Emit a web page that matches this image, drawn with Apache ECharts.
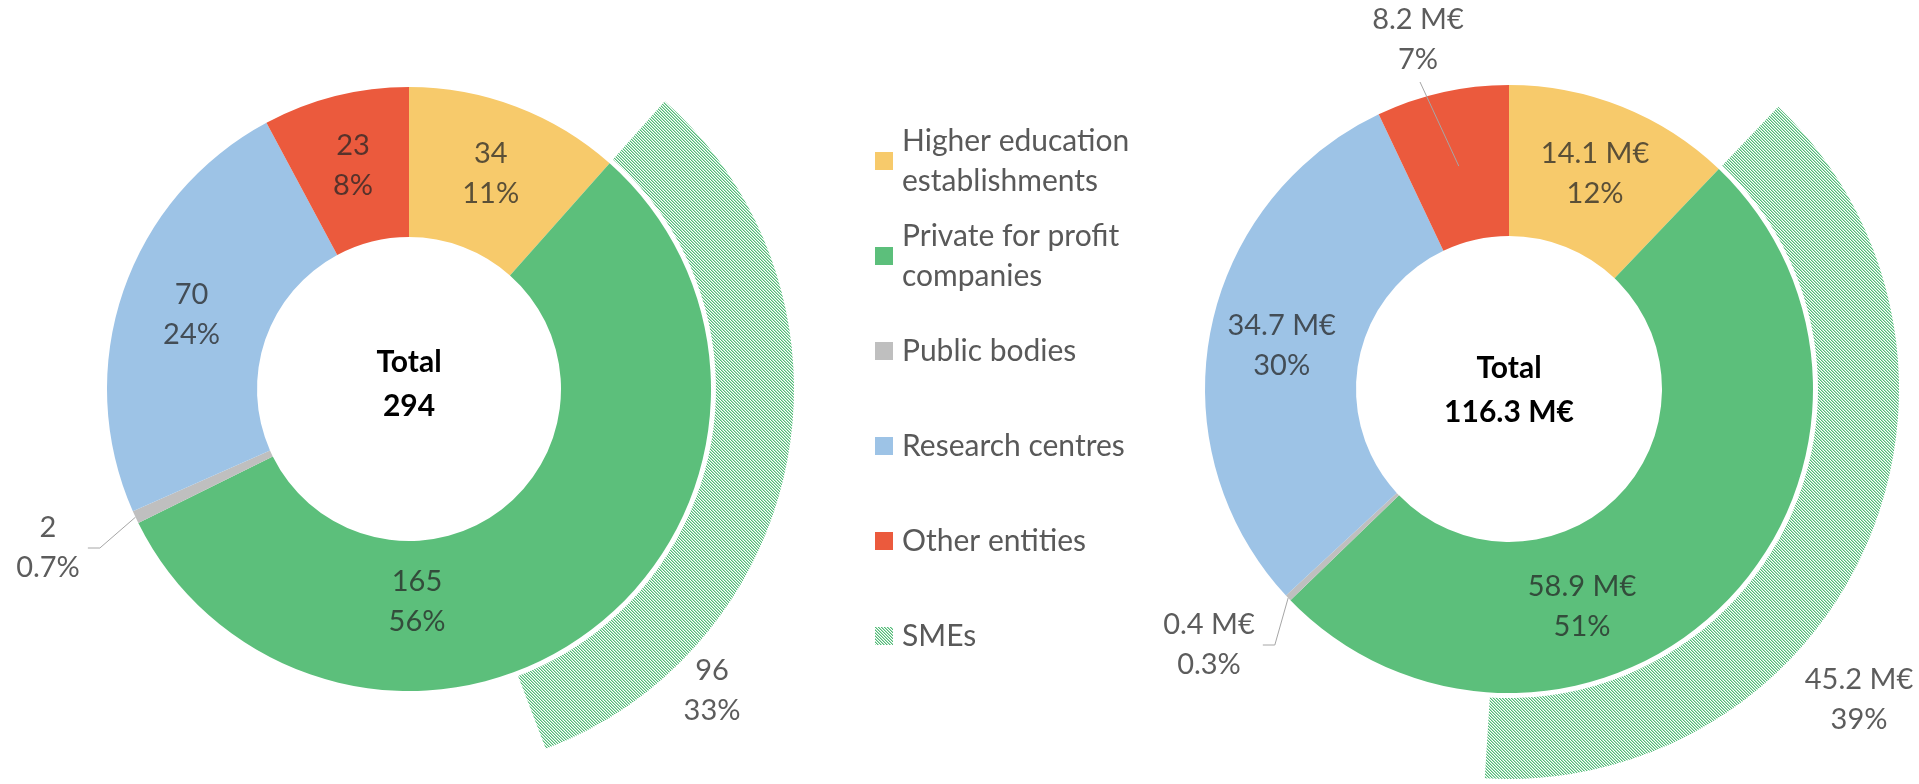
<!DOCTYPE html>
<html>
<head>
<meta charset="utf-8">
<title>Participants and funding by type of entity</title>
<script src="https://cdn.jsdelivr.net/npm/echarts@6/dist/echarts.min.js"></script>
<style>
  html, body { margin: 0; padding: 0; background: #fff; }
  #chart { width: 1919px; height: 784px; }
</style>
</head>
<body>
<div id="chart"></div>
<script>
var categories = ['Higher education establishments', 'Private for profit companies', 'Public bodies', 'Research centres', 'Other entities']
var legendNames = categories.concat(['SMEs'])
var legendText = ['Higher education\nestablishments', 'Private for profit\ncompanies', 'Public bodies', 'Research centres', 'Other entities', 'SMEs']

// left ring: number of participants
var participants = [34, 165, 2, 70, 23]
var participantsPct = ['11%', '56%', '0.7%', '24%', '8%']
var participantsTotal = 294
var participantsSme = 96
var participantsSmePct = '33%'

// right ring: funding in M€
var funding = [14.1, 58.9, 0.4, 34.7, 8.2]
var fundingPct = ['12%', '51%', '0.3%', '30%', '7%']
var fundingTotal = 116.3
var fundingSme = 45.2
var fundingSmePct = '39%'

var colors = ['#F7CA6B', '#5CBF7B', '#BFBFBF', '#9DC3E6', '#EB5A3D']
var labelColor = 'rgba(38,38,38,0.75)'
var leaderColor = '#a6a6a6'
var font = 'Lato'

// fine diagonal hatch for the SMEs arc
var hatch = document.createElement('canvas')
hatch.width = 3
hatch.height = 3
var ctx = hatch.getContext('2d')
ctx.fillStyle = '#ffffff'
ctx.fillRect(0, 0, 3, 3)
for (var i = 0; i < 3; i++) {
  ctx.fillStyle = '#52b978'
  ctx.fillRect(i, i, 1, 1)
  ctx.fillStyle = '#a9e0bb'
  ctx.fillRect((i + 1) % 3, i, 1, 1)
}
var hatchFill = { image: hatch, repeat: 'repeat' }

var labelBase = {
  fontFamily: font,
  fontSize: 29,
  lineHeight: 40,
  color: labelColor
}

// point in the middle of a slice (ring starts at 12 o'clock, clockwise)
function sliceMiddle(values, idx, center, radius) {
  var sum = 0, before = 0
  values.forEach(function (v, i) { sum += v; if (i < idx) before += v })
  var a = (90 - (before + values[idx] / 2) / sum * 360) * Math.PI / 180
  var r = (radius[0] + radius[1]) / 2
  return [center[0] + r * Math.cos(a), center[1] - r * Math.sin(a)]
}

function ring(values, pcts, fmt, center, radius, spots, outside) {
  return {
    type: 'pie',
    center: center,
    radius: radius,
    avoidLabelOverlap: false,
    silent: true,
    label: Object.assign({ position: 'inside', formatter: function (p) {
      return fmt(values[p.dataIndex]) + '\n' + pcts[p.dataIndex]
    } }, labelBase),
    labelLine: { show: false },
    labelLayout: function (p) {
      var s = spots[p.dataIndex]
      if (s) return { x: s[0], y: s[1], align: 'center', verticalAlign: 'middle' }
    },
    data: values.map(function (v, i) {
      var item = { name: categories[i], value: v, itemStyle: { color: colors[i] } }
      if (outside.indexOf(i) >= 0) {
        item.label = { position: 'outside', padding: [4, 8, 4, 8] }
        item.labelLine = { show: true, length: 20, length2: 12, lineStyle: { color: leaderColor, width: 1 } }
      }
      return item
    })
  }
}

function smeArc(values, total, sme, text, center, radius, spot) {
  var before = values[0]
  var after = Math.round((total - before - sme) * 10) / 10
  var none = { color: 'rgba(0,0,0,0)' }
  return {
    type: 'pie',
    center: center,
    radius: radius,
    avoidLabelOverlap: false,
    silent: true,
    label: Object.assign({ position: 'inside' }, labelBase),
    labelLine: { show: false },
    labelLayout: function (p) {
      if (p.dataIndex === 1) return { x: spot[0], y: spot[1], align: 'center', verticalAlign: 'middle' }
    },
    data: [
      { name: '', value: before, itemStyle: none, label: { show: false } },
      { name: 'SMEs', value: sme, itemStyle: { color: hatchFill }, label: { formatter: text } },
      { name: ' ', value: after, itemStyle: none, label: { show: false } }
    ]
  }
}

var leftCenter = [409, 389]
var rightCenter = [1509, 389]
var rightRadius = [153, 304]
var redSpot = [1418, 40]

// leader of the lifted "Other entities" funding label, from inside its slice
var redStart = sliceMiddle(funding, 4, rightCenter, rightRadius)

var chart = echarts.init(document.getElementById('chart'))
var option = {
  animation: false,
  backgroundColor: '#ffffff',
  legend: {
    orient: 'vertical',
    left: 875,
    top: 101,
    padding: 0,
    icon: 'rect',
    itemWidth: 18,
    itemHeight: 18,
    itemGap: -25,
    selectedMode: false,
    formatter: function (name) {
      return legendText[legendNames.indexOf(name)]
    },
    textStyle: {
      fontFamily: font,
      fontSize: 30,
      lineHeight: 40,
      color: '#595959'
    },
    data: legendNames.map(function (n, i) {
      var twoLines = legendText[i].indexOf('\n') >= 0
      return { name: n, textStyle: { padding: twoLines ? [40, 0, 0, 4] : [40, 0, 40, 4] } }
    })
  },
  graphic: [
    {
      type: 'text',
      x: leftCenter[0],
      y: 384,
      silent: true,
      style: {
        text: 'Total\n' + participantsTotal,
        align: 'center',
        verticalAlign: 'middle',
        fontFamily: font,
        fontWeight: 'bold',
        fontSize: 30,
        lineHeight: 44,
        fill: '#000'
      }
    },
    {
      type: 'text',
      x: rightCenter[0],
      y: 390,
      silent: true,
      style: {
        text: 'Total\n' + fundingTotal.toFixed(1) + ' M€',
        align: 'center',
        verticalAlign: 'middle',
        fontFamily: font,
        fontWeight: 'bold',
        fontSize: 30,
        lineHeight: 44,
        fill: '#000'
      }
    },
    {
      type: 'line',
      z: 20,
      silent: true,
      shape: { x1: redStart[0], y1: redStart[1], x2: redSpot[0] + 2, y2: redSpot[1] + 42 },
      style: { stroke: leaderColor, lineWidth: 1 }
    }
  ],
  series: [
    ring(participants, participantsPct, function (v) { return String(v) },
      leftCenter, [152, 302], { 1: [417, 602], 2: [48, 548] }, [2]),
    smeArc(participants, participantsTotal, participantsSme, participantsSme + '\n' + participantsSmePct,
      leftCenter, [307, 385], [712, 691]),
    ring(funding, fundingPct, function (v) { return v.toFixed(1) + ' M€' },
      rightCenter, rightRadius, { 1: [1582, 607], 2: [1209, 645], 4: redSpot }, [2]),
    smeArc(funding, fundingTotal, fundingSme, fundingSme.toFixed(1) + ' M€\n' + fundingSmePct,
      rightCenter, [309, 390], [1859, 700])
  ]
}
chart.setOption(option)
</script>
</body>
</html>
